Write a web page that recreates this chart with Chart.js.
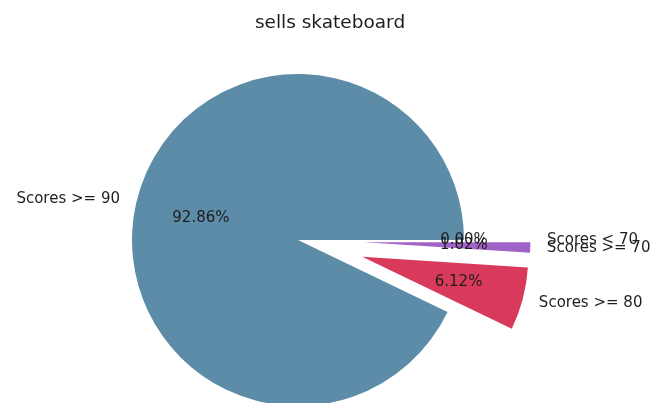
<!DOCTYPE html>
<html>
<head>
<meta charset="utf-8">
<script src="https://cdn.jsdelivr.net/npm/chart.js@4"></script>
<style>
  html, body { margin: 0; padding: 0; background: #ffffff; overflow: hidden; }
  #wrap { width: 660px; height: 403px; position: relative; }
</style>
</head>
<body>
<div id="wrap"><canvas id="pie" width="660" height="403"></canvas></div>
<script>
// Slices listed counter-clockwise starting at 3 o'clock
const sliceLabels = ['Scores >= 90', 'Scores >= 80', 'Scores >= 70', 'Scores < 70'];
const studentCounts = [91, 6, 1, 0];
const explodeFractions = [0, 0.4, 0.4, 0.4];
const sliceColors = ['#5c8ca8', '#d93a5b', '#a263c8', '#6fa86a'];
const chartTitle = 'sells skateboard';

// Chart.js sweeps clockwise, so feed the slices in reverse order
const cjLabels = sliceLabels.slice().reverse();
const cjCounts = studentCounts.slice().reverse();
const cjExplode = explodeFractions.slice().reverse();
const cjColors = sliceColors.slice().reverse();
const total = studentCounts.reduce((a, b) => a + b, 0);

const FONT = '"DejaVu Sans", Verdana, sans-serif';

// Push each wedge outwards along its bisector by a fraction of the radius
const explodePlugin = {
  id: 'explode',
  afterDatasetUpdate(chart, args) {
    const meta = args.meta;
    meta.data.forEach((arc, i) => {
      const mid = (arc.startAngle + arc.endAngle) / 2;
      const d = (cjExplode[i] || 0) * arc.outerRadius;
      arc.x += Math.cos(mid) * d;
      arc.y += Math.sin(mid) * d;
    });
  }
};

// Category names outside the pie, percentages inside each wedge, and the title
const pieLabelsPlugin = {
  id: 'pieLabels',
  afterDatasetsDraw(chart) {
    const ctx = chart.ctx;
    const meta = chart.getDatasetMeta(0);
    ctx.save();
    ctx.font = '15px ' + FONT;
    ctx.fillStyle = '#1e1e1e';
    ctx.textBaseline = 'middle';
    // draw in counter-clockwise order so later slices sit on top
    for (let k = meta.data.length - 1; k >= 0; k--) {
      const arc = meta.data[k];
      const mid = (arc.startAngle + arc.endAngle) / 2;
      const r = arc.outerRadius;
      const c = Math.cos(mid), s = Math.sin(mid);
      ctx.textAlign = c > 0 ? 'left' : 'right';
      ctx.fillText(cjLabels[k], arc.x + c * r * 1.1, arc.y + s * r * 1.1);
      ctx.textAlign = 'center';
      const pct = (cjCounts[k] / total * 100).toFixed(2) + '%';
      ctx.fillText(pct, arc.x + c * r * 0.6, arc.y + s * r * 0.6);
    }
    // title centred over the whole figure
    ctx.font = '18.5px ' + FONT;
    ctx.textAlign = 'center';
    ctx.fillText(chartTitle, chart.width / 2, 23);
    ctx.restore();
  }
};

new Chart(document.getElementById('pie'), {
  type: 'pie',
  data: {
    labels: cjLabels,
    datasets: [{
      data: cjCounts,
      backgroundColor: cjColors,
      borderWidth: 0,
      hoverOffset: 0,
      clip: false
    }]
  },
  options: {
    responsive: false,
    animation: false,
    rotation: 90,
    radius: 166,
    layout: { padding: { left: 0, right: 64, top: 77, bottom: 0 } },
    plugins: {
      legend: { display: false },
      tooltip: { enabled: false },
      title: { display: false }
    },
    events: []
  },
  plugins: [explodePlugin, pieLabelsPlugin]
});
</script>
</body>
</html>
